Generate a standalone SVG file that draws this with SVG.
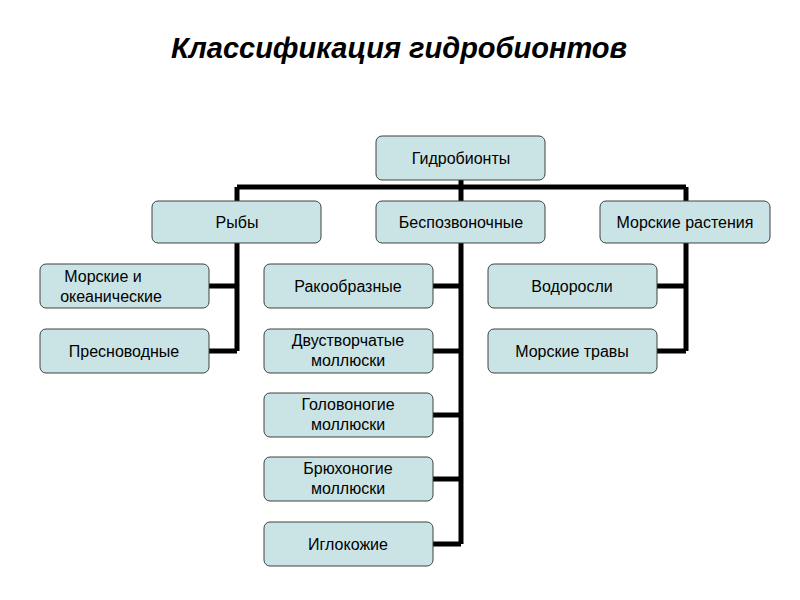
<svg xmlns="http://www.w3.org/2000/svg" width="800" height="600" viewBox="0 0 800 600">
<style>
.n rect{fill:#cae4e6;stroke:#404040;stroke-width:1}
.n text{font-family:"Liberation Sans",Arial,sans-serif;font-size:16px;fill:#000;text-anchor:middle}
.c{stroke:#000;stroke-width:5;fill:none}
</style>
<rect width="800" height="600" fill="#fff"/>
<text x="399" y="58" font-family="Liberation Sans,Arial,sans-serif" font-size="29" font-weight="bold" font-style="italic" text-anchor="middle">Классификация  гидробионтов</text>
<g id="connectors" class="c">
<path d="M461 180V187M237 187H686M237 187V201M461 187V201M686 187V201"/>
<path d="M237 243V351M209 286H237M209 351H237"/>
<path d="M461 243V544M433 286H461M433 351H461M433 415H461M433 479H461M433 544H461"/>
<path d="M686 243V351M657 286H686M657 351H686"/>
</g>
<g id="root" class="n"><rect x="376" y="136" width="169" height="44" rx="6"/><text x="461" y="164">Гидробионты</text></g>
<g id="fish" class="n"><rect x="152" y="201" width="169" height="42" rx="6"/><text x="237" y="228">Рыбы</text></g>
<g id="invert" class="n"><rect x="376" y="201" width="169" height="42" rx="6"/><text x="461" y="228">Беспозвоночные</text></g>
<g id="plants" class="n"><rect x="600" y="201" width="170" height="42" rx="6"/><text x="685" y="228">Морские растения</text></g>
<g id="marine" class="n"><rect x="40" y="264" width="169" height="44" rx="6"/><text x="103" y="282">Морские и</text><text x="111" y="302">океанические</text></g>
<g id="fresh" class="n"><rect x="40" y="329" width="169" height="44" rx="6"/><text x="124" y="357">Пресноводные</text></g>
<g id="crust" class="n"><rect x="264" y="264" width="169" height="44" rx="6"/><text x="348" y="292">Ракообразные</text></g>
<g id="bival" class="n"><rect x="264" y="329" width="169" height="44" rx="6"/><text x="348" y="346">Двустворчатые</text><text x="348" y="366">моллюски</text></g>
<g id="ceph" class="n"><rect x="264" y="393" width="169" height="44" rx="6"/><text x="348" y="410">Головоногие</text><text x="348" y="430">моллюски</text></g>
<g id="gastro" class="n"><rect x="264" y="457" width="169" height="44" rx="6"/><text x="348" y="474">Брюхоногие</text><text x="348" y="494">моллюски</text></g>
<g id="echin" class="n"><rect x="264" y="522" width="169" height="44" rx="6"/><text x="348" y="550">Иглокожие</text></g>
<g id="algae" class="n"><rect x="488" y="264" width="169" height="44" rx="6"/><text x="572" y="292">Водоросли</text></g>
<g id="grass" class="n"><rect x="488" y="329" width="169" height="44" rx="6"/><text x="572" y="357">Морские травы</text></g>
</svg>
